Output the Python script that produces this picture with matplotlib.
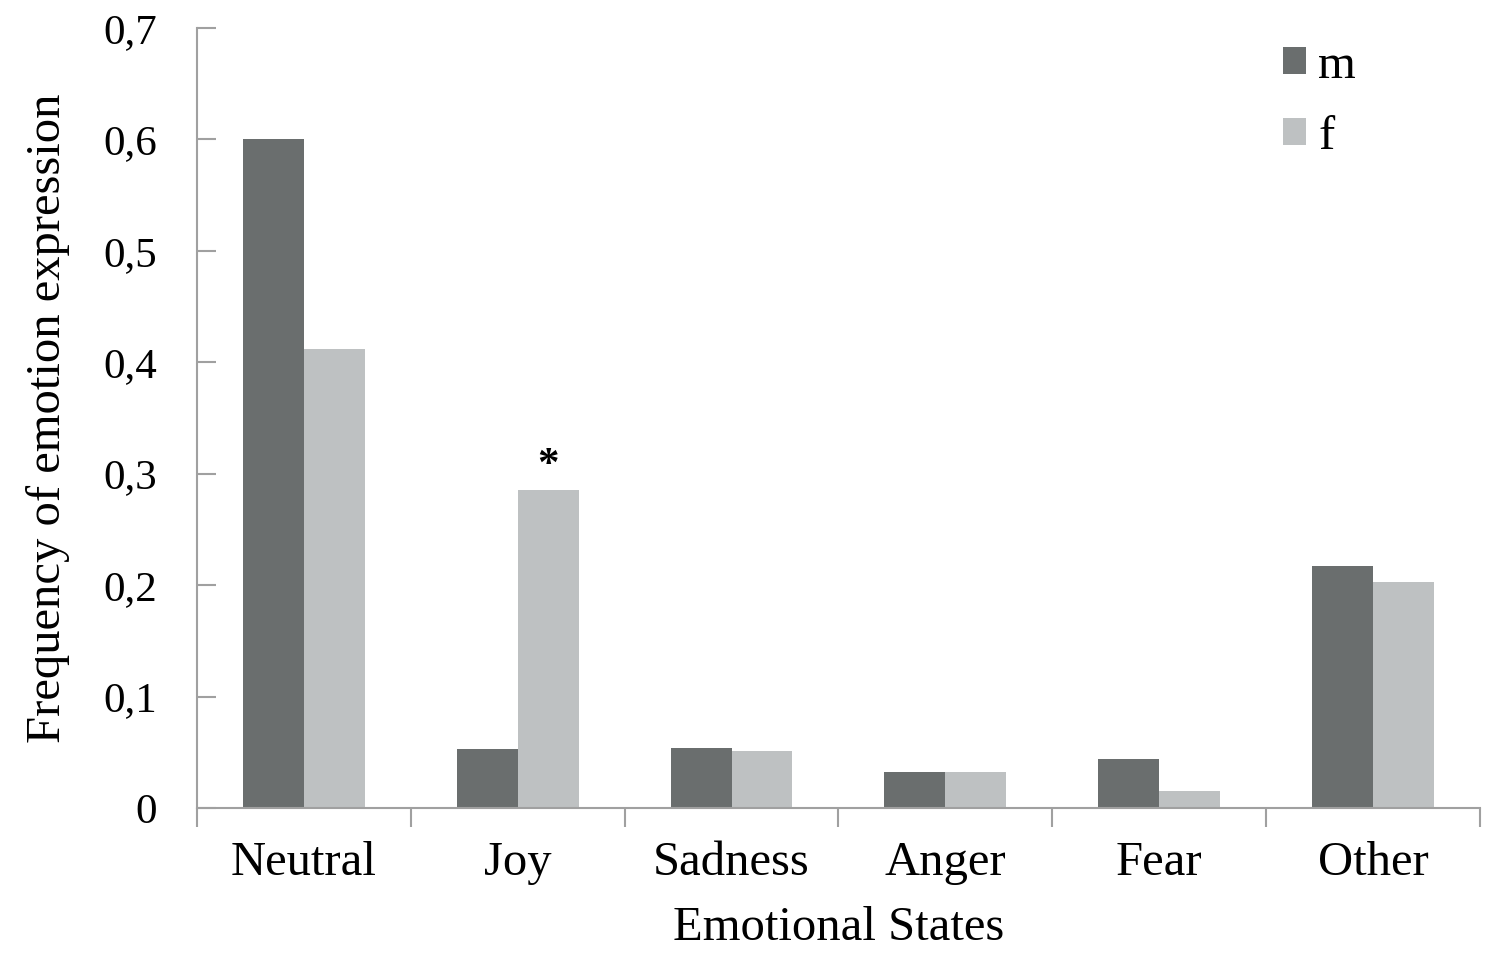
import numpy as np
import matplotlib
matplotlib.use('Agg')
import matplotlib.pyplot as plt

# data
states = ['Neutral', 'Joy', 'Sadness', 'Anger', 'Fear', 'Other']
m_vals = [0.600, 0.053, 0.054, 0.032, 0.044, 0.217]
f_vals = [0.412, 0.285, 0.051, 0.032, 0.015, 0.203]
y_ticks = [0, 0.1, 0.2, 0.3, 0.4, 0.5, 0.6, 0.7]
y_labels = ['0', '0,1', '0,2', '0,3', '0,4', '0,5', '0,6', '0,7']

plt.rcParams['font.family'] = ['Liberation Serif', 'DejaVu Serif']

fig = plt.figure(figsize=(14.91, 9.55), dpi=100)
ax = fig.add_axes([0.1321, 0.1539, 0.8605, 0.8168])

x = np.arange(len(states))
w = 0.285
ax.bar(x - w / 2, m_vals, w, color='#6a6e6e', label='m')
ax.bar(x + w / 2, f_vals, w, color='#bec1c2', label='f')

# significance mark over Joy (f)
ax.annotate('*', (x[1] + w / 2, f_vals[1]), xytext=(0, 4), textcoords='offset points',
            ha='center', va='bottom', fontsize=31, fontweight='bold')

ax.set_xlim(-0.5, len(states) - 0.5)
ax.set_ylim(0, 0.7)

# ticks on the group borders, labels in the middle
ax.set_xticks(np.arange(len(states) + 1) - 0.5)
ax.set_xticklabels([])
ax.set_xticks(x, minor=True)
ax.set_xticklabels(states, minor=True, fontsize=35)
ax.tick_params(axis='x', which='major', direction='out', length=14, width=1.5, color='#a0a0a0')
ax.tick_params(axis='x', which='minor', length=0, pad=24)

ax.set_yticks(y_ticks)
ax.set_yticklabels(y_labels, fontsize=31)
ax.tick_params(axis='y', direction='in', length=14, width=1.5, color='#a0a0a0', pad=29)

for s in ['top', 'right']:
    ax.spines[s].set_visible(False)
for s in ['left', 'bottom']:
    ax.spines[s].set_color('#a0a0a0')
    ax.spines[s].set_linewidth(1.5)

ax.set_xlabel('Emotional States', fontsize=35, labelpad=15)
ax.set_ylabel('Frequency of emotion expression', fontsize=35, labelpad=24)

ax.legend(loc='upper left', bbox_to_anchor=(1283 / 1491, 1 - 44 / 955), bbox_transform=fig.transFigure,
          frameon=False, fontsize=35, borderpad=0, borderaxespad=0,
          handlelength=0.47, handleheight=0.47, handletextpad=0.25, labelspacing=0.55)

fig.savefig('out.png', dpi=100, facecolor='white')
